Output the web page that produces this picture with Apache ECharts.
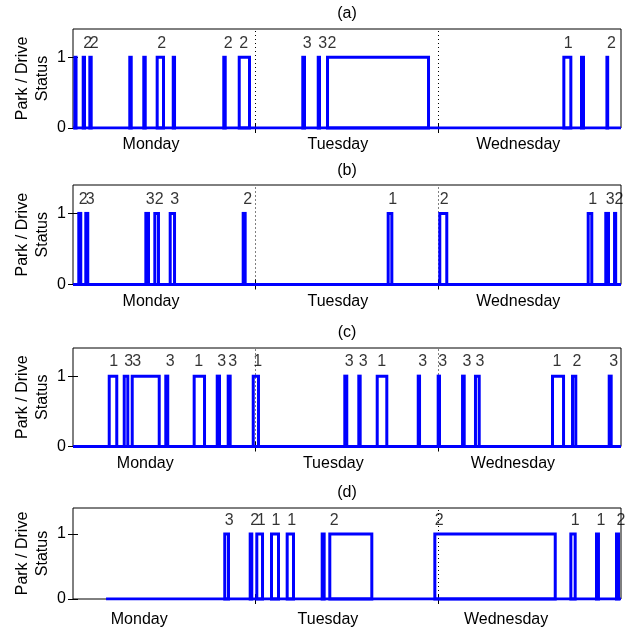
<!DOCTYPE html>
<html>
<head>
<meta charset="utf-8">
<script src="https://cdn.jsdelivr.net/npm/echarts@6/dist/echarts.min.js"></script>
<style>
  html, body { margin: 0; padding: 0; background: #fff; }
  #chart { width: 638px; height: 633px; }
</style>
</head>
<body>
<div id="chart"></div>
<script>
// Three days of park/drive status (0 = parked, 1 = driving), hours from Monday 00:00.
const X_MAX = 72;
const dayNames = ['Monday', 'Tuesday', 'Wednesday'];
const panelTitles = ['(a)', '(b)', '(c)', '(d)'];
const dayBoundaries = [24, 48];
const statusTicks = [0, 1];

// Where each day name sits on the time axis, per panel
const dayLabelPosA = [10.25, 34.8, 58.5];
const dayLabelPosB = [10.25, 34.8, 58.5];
const dayLabelPosC = [9.5, 34.2, 57.8];
const dayLabelPosD = [8.7, 33.5, 56.9];

// Midnight markers drawn in each panel
const midnightLinesA = [24, 48];
const midnightLinesB = [24, 48];
const midnightLinesC = [24, 48];
const midnightLinesD = [48];

// Time each trace begins (hours)
const traceStart = [0, 0, 0, 4.34];

// Panel (a): drive periods [start, end] in hours, with trip tags
const startsA = [0.25, 1.34, 2.21, 7.46, 9.30, 11.06, 13.17, 19.81, 21.84, 30.19, 32.22, 33.44, 64.49, 66.81, 70.15];
const endsA   = [0.40, 1.51, 2.39, 7.65, 9.49, 11.89, 13.34, 20.00, 23.19, 30.42, 32.39, 46.71, 65.41, 67.07, 70.25];
const tagsA   = ['', '2', '2', '', '', '2', '', '2', '2', '3', '3', '2', '1', '', '2'];

// Panel (b)
const startsB = [0.76, 1.68, 9.57, 10.75, 12.77, 22.36, 41.41, 48.19, 67.69, 70.00, 71.15];
const endsB   = [1.02, 1.94, 9.92, 11.23, 13.34, 22.62, 41.89, 49.11, 68.16, 70.36, 71.30];
const tagsB   = ['2', '3', '3', '2', '3', '2', '1', '2', '1', '3', '2'];

// Panel (c)
const startsC = [4.76, 6.73, 7.78, 12.19, 15.92, 18.95, 20.39, 23.68, 35.71, 37.55, 39.97, 45.36, 47.98, 51.18, 52.88, 63.00, 65.63, 70.45];
const endsC   = [5.75, 7.20, 11.33, 12.45, 17.28, 19.25, 20.65, 24.37, 35.97, 37.73, 41.23, 45.53, 48.15, 51.40, 53.37, 64.45, 66.06, 70.71];
const tagsC   = ['1', '3', '3', '3', '1', '3', '3', '1', '3', '3', '1', '3', '3', '3', '3', '1', '2', '3'];

// Panel (d)
const startsD = [19.94, 23.28, 24.15, 26.08, 28.14, 32.74, 33.74, 47.54, 65.41, 68.78, 71.41];
const endsD   = [20.43, 23.49, 24.90, 27.00, 28.97, 33.00, 39.26, 63.36, 65.98, 69.04, 71.67];
const tagsD   = ['3', '2', '1', '1', '1', '', '2', '2', '1', '1', '2'];

const TAG_LEVEL = 1.2;

const panels = [
  { starts: startsA, ends: endsA, tags: tagsA, dayPos: dayLabelPosA, midnights: midnightLinesA },
  { starts: startsB, ends: endsB, tags: tagsB, dayPos: dayLabelPosB, midnights: midnightLinesB },
  { starts: startsC, ends: endsC, tags: tagsC, dayPos: dayLabelPosC, midnights: midnightLinesC },
  { starts: startsD, ends: endsD, tags: tagsD, dayPos: dayLabelPosD, midnights: midnightLinesD }
];

// Layout of the four stacked plots
const gridBoxes = [
  { left: 73, top: 29,  width: 548, height: 99 },
  { left: 73, top: 185, width: 548, height: 99.5 },
  { left: 73, top: 348, width: 548, height: 98.5 },
  { left: 73, top: 508, width: 548, height: 91 }
];
const dayLabelMargin = [9, 9, 9, 13];
const titleTops = [6, 163, 325, 485];

const FONT = "'Liberation Sans', Arial, Helvetica, sans-serif";
const BLUE = '#0000ff';
const LINE_W = 3;

const grids = [], xAxes = [], yAxes = [], series = [], titles = [];

panels.forEach(function (p, i) {
  const g = gridBoxes[i];
  grids.push({
    left: g.left, top: g.top, width: g.width, height: g.height,
    outerBoundsMode: 'none', containLabel: false,
    show: true, borderColor: '#000', borderWidth: 1, backgroundColor: 'transparent'
  });

  titles.push({
    text: panelTitles[i],
    left: g.left + g.width / 2, top: titleTops[i], textAlign: 'center', padding: 0,
    textStyle: { fontSize: 16, fontWeight: 'normal', color: '#000', fontFamily: FONT }
  });

  const dayPos = p.dayPos;
  // bottom time axis with day names
  xAxes.push({
    gridIndex: i, type: 'value', min: 0, max: X_MAX, position: 'bottom',
    axisLine: { show: false },
    axisTick: { show: true, inside: true, length: 5, customValues: dayBoundaries, lineStyle: { color: '#000' } },
    axisLabel: {
      show: true, customValues: dayPos, margin: dayLabelMargin[i],
      fontSize: 16, color: '#000', fontFamily: FONT,
      formatter: function (v) {
        let best = 0;
        for (let k = 1; k < dayPos.length; k++) {
          if (Math.abs(dayPos[k] - v) < Math.abs(dayPos[best] - v)) best = k;
        }
        return dayNames[best];
      }
    },
    splitLine: { show: false }
  });
  // top time axis (ticks only)
  xAxes.push({
    gridIndex: i, type: 'value', min: 0, max: X_MAX, position: 'top',
    axisLine: { show: false },
    axisTick: { show: true, inside: true, length: 5, customValues: dayBoundaries, lineStyle: { color: '#000' } },
    axisLabel: { show: false },
    splitLine: { show: false }
  });
  // left status axis
  yAxes.push({
    gridIndex: i, type: 'value', min: 0, max: 1.4, position: 'left',
    name: 'Park / Drive\nStatus', nameLocation: 'middle', nameGap: 20, nameRotate: 90,
    nameMoveOverlap: false,
    nameTextStyle: { fontSize: 16, color: '#000', fontFamily: FONT, lineHeight: 20, align: 'center' },
    axisLine: { show: false },
    axisTick: { show: true, inside: true, length: 5, customValues: statusTicks, lineStyle: { color: '#000' } },
    axisLabel: { show: true, customValues: statusTicks, margin: 7, fontSize: 16, color: '#000', fontFamily: FONT },
    splitLine: { show: false }
  });
  // right status axis (ticks only)
  yAxes.push({
    gridIndex: i, type: 'value', min: 0, max: 1.4, position: 'right',
    axisLine: { show: false },
    axisTick: { show: true, inside: true, length: 5, customValues: statusTicks, lineStyle: { color: '#000' } },
    axisLabel: { show: false },
    splitLine: { show: false }
  });

  // parked baseline (status 0) across the recorded span
  series.push({
    type: 'line', xAxisIndex: 2 * i, yAxisIndex: 2 * i,
    data: [[traceStart[i], 0], [X_MAX, 0]], symbol: 'none', showSymbol: false,
    lineStyle: { color: BLUE, width: LINE_W, cap: 'butt' },
    z: 3, silent: true, animation: false,
    markLine: {
      silent: true, symbol: 'none', animation: false, z: 1,
      label: { show: false },
      lineStyle: { color: '#000', width: 1, type: [1, 3] },
      data: p.midnights.map(function (t) { return { xAxis: t }; })
    }
  });

  // each drive period: status rises to 1 at start, returns to 0 at end
  const drives = p.starts.map(function (s, k) { return [s, p.ends[k]]; });
  series.push({
    type: 'custom', xAxisIndex: 2 * i, yAxisIndex: 2 * i,
    data: drives, silent: true, animation: false, z: 4,
    renderItem: function (params, api) {
      const a = api.coord([api.value(0), 1]);
      const b = api.coord([api.value(1), 0]);
      return {
        type: 'rect',
        shape: { x: a[0], y: a[1], width: b[0] - a[0], height: b[1] - a[1] },
        style: { stroke: BLUE, fill: null, lineWidth: LINE_W, lineJoin: 'miter' }
      };
    }
  });

  // trip tags written above each drive period
  const tagPoints = [];
  for (let k = 0; k < p.starts.length; k++) {
    if (p.tags[k] !== '') tagPoints.push([p.starts[k], TAG_LEVEL, p.tags[k]]);
  }
  series.push({
    type: 'scatter', xAxisIndex: 2 * i, yAxisIndex: 2 * i,
    data: tagPoints, symbolSize: 0, silent: true, animation: false, z: 5,
    label: {
      show: true, position: 'inside', align: 'left', verticalAlign: 'middle',
      fontSize: 16, color: '#000', fontFamily: FONT,
      formatter: function (prm) { return prm.value[2]; }
    }
  });
});

const chart = echarts.init(document.getElementById('chart'), null, { renderer: 'canvas' });
chart.setOption({
  animation: false,
  backgroundColor: '#fff',
  title: titles,
  grid: grids,
  xAxis: xAxes,
  yAxis: yAxes,
  series: series
});
</script>
</body>
</html>
